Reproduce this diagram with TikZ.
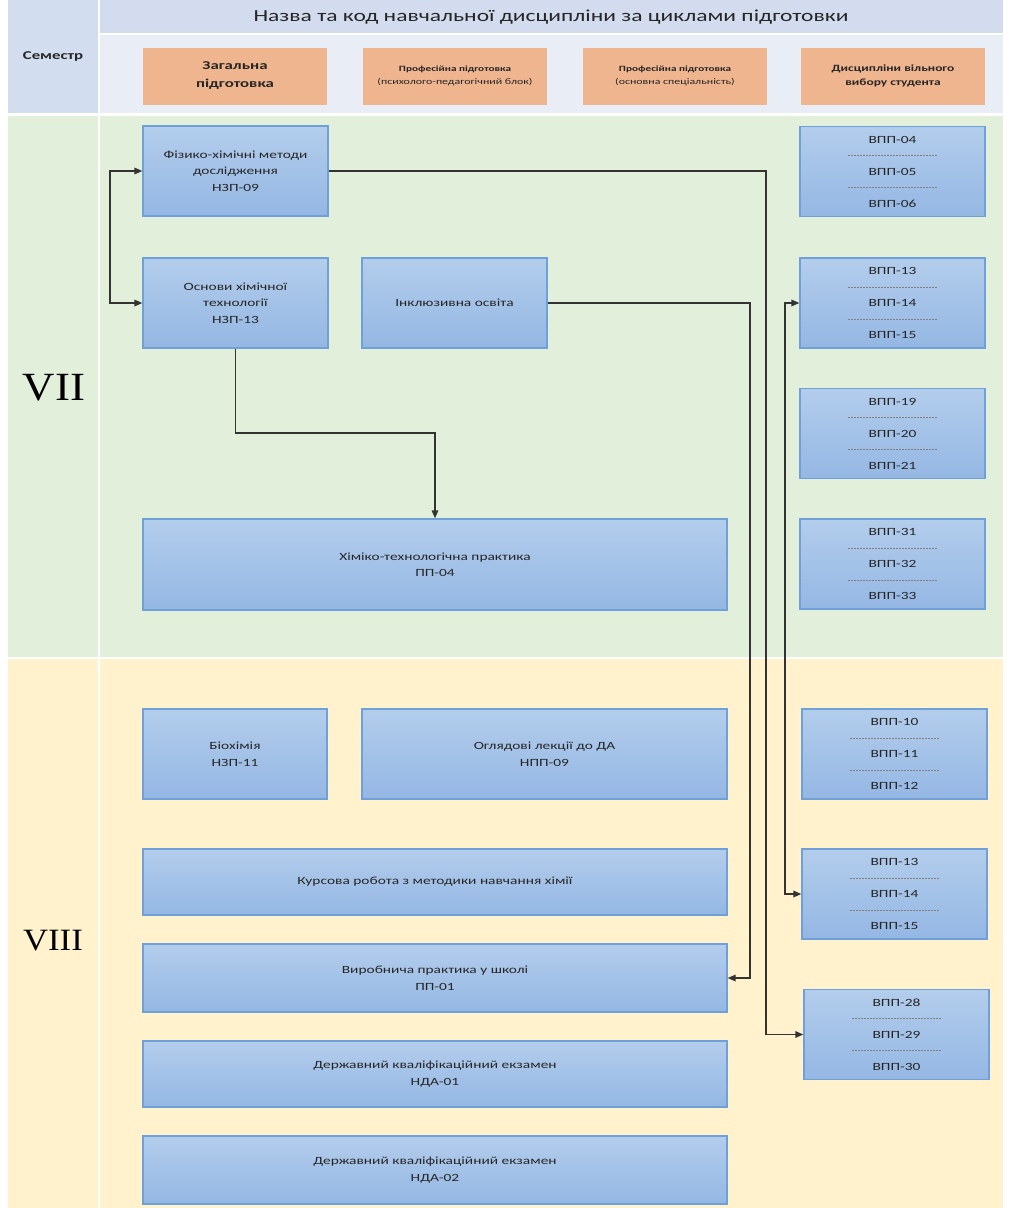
\documentclass[tikz,border=0pt]{standalone}
\usepackage{fontspec}
\setmainfont[FakeStretch=1.4]{Carlito}
\newfontfamily\romfont[FakeStretch=1.12]{Liberation Serif}
\usetikzlibrary{arrows.meta}
\definecolor{semC}{HTML}{D2DDEF}
\definecolor{titleC}{HTML}{D2DCEE}
\definecolor{subC}{HTML}{E9EDF6}
\definecolor{greenC}{HTML}{E2EFDA}
\definecolor{yellowC}{HTML}{FFF2CC}
\definecolor{oFill}{HTML}{EFB58F}
\definecolor{bTop}{HTML}{B3CDEC}
\definecolor{bBot}{HTML}{94B7E3}
\definecolor{bBord}{HTML}{6FA0DA}
\definecolor{txt}{HTML}{262626}
\begin{document}
\begin{tikzpicture}[x=1pt,y=-1pt,
  bbox/.style={draw=bBord, line width=1.3pt, top color=bTop, bottom color=bBot,
    align=center, text=txt, inner sep=2pt, font=\fontsize{11}{16.5}\selectfont},
  rbox/.style={bbox, minimum width=185pt, minimum height=90pt},
  obox/.style={fill=oFill, draw=none, minimum width=184pt, minimum height=57pt,
    align=center, text=txt, inner sep=1pt},
  sepline/.style={draw=black!50, line width=0.6pt, dash pattern=on 2.2pt off 0.8pt},
  conn/.style={draw=black!80, line width=1.6pt, -{Triangle[length=8pt,width=6.5pt]}},
  connb/.style={draw=black!80, line width=1.6pt, {Triangle[length=8pt,width=6.5pt]}-{Triangle[length=8pt,width=6.5pt]}}
]
\useasboundingbox (0,0) rectangle (1011,1208);
\fill[white] (0,0) rectangle (1011,1208);
% background bands
\fill[semC] (8,0) rectangle (98,113);
\fill[titleC] (100,0) rectangle (1003,33);
\fill[subC] (100,35) rectangle (1003,113);
\fill[greenC] (8,116) rectangle (98,657);
\fill[greenC] (100,116) rectangle (1003,657);
\fill[yellowC] (8,659) rectangle (98,1208);
\fill[yellowC] (100,659) rectangle (1003,1208);

% header texts
\node[text=txt, font=\fontsize{16.8}{18}\selectfont] (title) at (551,17) {Назва та код навчальної дисципліни за циклами підготовки};
\node[text=txt, font=\fontsize{12}{14}\selectfont\bfseries] (sem) at (53,57) {Семестр};
\node[text=black, font=\romfont\fontsize{40}{40}\selectfont] (s7) at (54,388) {VII};
\node[text=black, font=\romfont\fontsize{31}{31}\selectfont] (s8) at (53,941) {VIII};

% orange header boxes
\node[obox, font=\fontsize{12}{18}\selectfont\bfseries] (h1) at (235,76) {Загальна\\підготовка};
\node[obox] (h2) at (455,76) {{\fontsize{8}{13}\selectfont\bfseries Професійна підготовка}\\[1.5pt]{\fontsize{8.5}{9}\selectfont (психолого-педагогічний блок)}};
\node[obox] (h3) at (675,76) {{\fontsize{8}{13}\selectfont\bfseries Професійна підготовка}\\[1.5pt]{\fontsize{8.5}{9}\selectfont (основна спеціальність)}};
\node[obox, font=\fontsize{9.6}{14}\selectfont\bfseries] (h4) at (893,76) {Дисципліни вільного\\вибору студента};

% left / middle boxes
\node[bbox, minimum width=185pt, minimum height=90pt] (f) at (235.5,171) {Фізико-хімічні методи\\дослідження\\НЗП-09};
\node[bbox, minimum width=185pt, minimum height=90pt] (osn) at (235.5,303) {Основи хімічної\\технології\\НЗП-13};
\node[bbox, minimum width=185pt, minimum height=90pt] (inc) at (454.5,303) {Інклюзивна освіта};
\node[bbox, minimum width=584pt, minimum height=91pt] (khim) at (435,564.5) {Хіміко-технологічна практика\\ПП-04};
\node[bbox, minimum width=184pt, minimum height=90pt] (bio) at (235,754) {Біохімія\\НЗП-11};
\node[bbox, minimum width=365pt, minimum height=90pt] (ogl) at (544.5,754) {Оглядові лекції до ДА\\НПП-09};
\node[bbox, minimum width=584pt, minimum height=66pt] (kurs) at (435,882) {Курсова робота з методики навчання хімії};
\node[bbox, minimum width=584pt, minimum height=68pt] (vyr) at (435,978) {Виробнича практика у школі\\ПП-01};
\node[bbox, minimum width=584pt, minimum height=66pt] (dke1) at (435,1074) {Державний кваліфікаційний екзамен\\НДА-01};
\node[bbox, minimum width=584pt, minimum height=68pt] (dke2) at (435,1170) {Державний кваліфікаційний екзамен\\НДА-02};

% right boxes
\newcommand{\vppbox}[5]{%
  \node[rbox] (#1) at (#2) {#3\\[15.5pt]#4\\[15.5pt]#5};
  \draw[sepline] ([xshift=-44.5pt,yshift=16pt]#1.center) -- ++(89,0);
  \draw[sepline] ([xshift=-44.5pt,yshift=-16pt]#1.center) -- ++(89,0);
}
\vppbox{v04}{892.5,171.5}{ВПП-04}{ВПП-05}{ВПП-06}
\vppbox{v13a}{892.5,303}{ВПП-13}{ВПП-14}{ВПП-15}
\vppbox{v19}{892.5,433.5}{ВПП-19}{ВПП-20}{ВПП-21}
\vppbox{v31}{892.5,564}{ВПП-31}{ВПП-32}{ВПП-33}
\vppbox{v10}{894.5,754}{ВПП-10}{ВПП-11}{ВПП-12}
\vppbox{v13b}{894.5,894}{ВПП-13}{ВПП-14}{ВПП-15}
\vppbox{v28}{896.5,1034.5}{ВПП-28}{ВПП-29}{ВПП-30}

% connectors
\draw[connb] (f.west) -| (110,240) |- (osn.west);
\draw[conn] (osn.south) |- (435,433) -| (khim.north);
\draw[conn] (f.east) -| (766,600) |- (v28.west);
\draw[conn] (inc.east) -| (750,600) |- (vyr.east);
\draw[connb] (v13a.west) -| (785,600) |- (v13b.west);
\end{tikzpicture}
\end{document}
